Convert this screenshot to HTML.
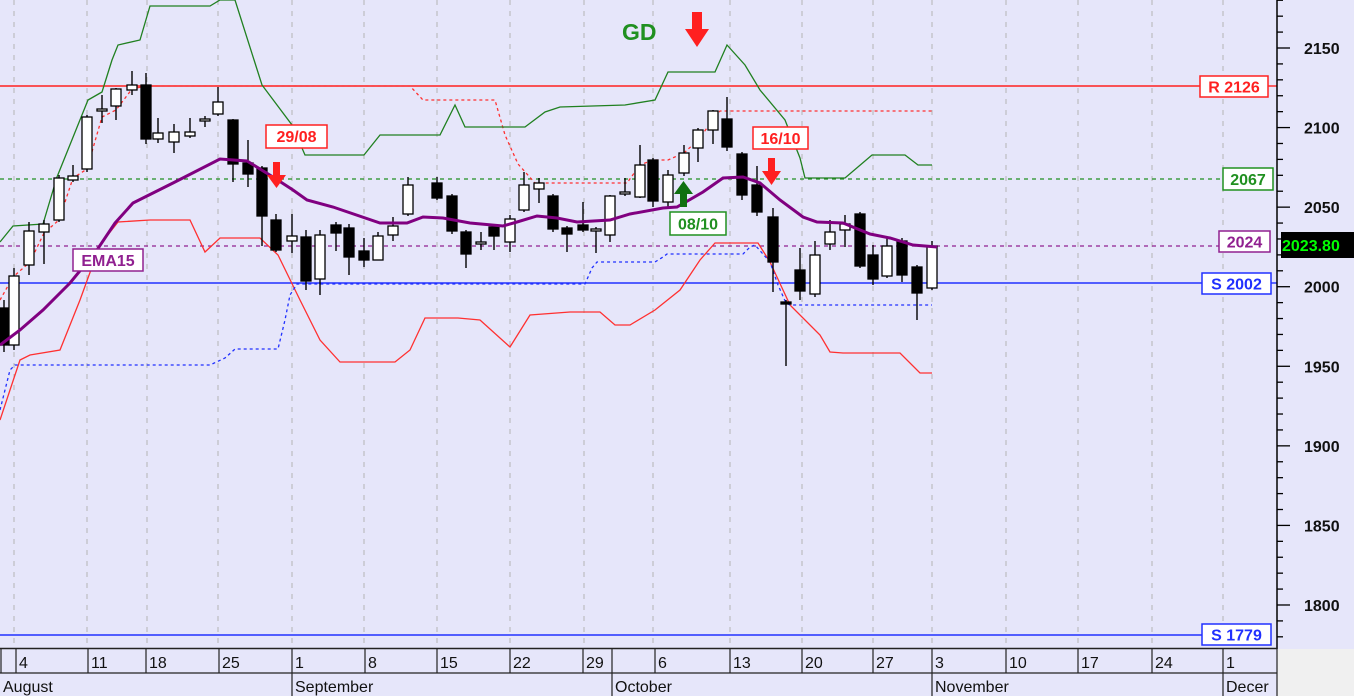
<!DOCTYPE html>
<html><head><meta charset="utf-8"><style>
html,body{margin:0;padding:0;background:#e6e6fa;}
svg{display:block;font-family:"Liberation Sans",Arial,sans-serif;}
</style></head><body>
<svg id="s" width="1354" height="696" viewBox="0 0 1354 696" xmlns="http://www.w3.org/2000/svg">
<rect x="0" y="0" width="1354" height="696" fill="#e6e6fa"/>
<rect x="1277" y="649" width="77" height="47" fill="#f0f0f0"/>
<g id="grid" stroke="#b4b4b4" stroke-dasharray="5,6" stroke-width="1"></g>
<line x1="0" y1="86" x2="1200" y2="86" stroke="#ff2020" stroke-width="1.4"/>
<line x1="1268" y1="86" x2="1277" y2="86" stroke="#ff2020" stroke-width="1.4"/>
<line x1="0" y1="179" x2="1223" y2="179" stroke="#209020" stroke-width="1.3" stroke-dasharray="4,4"/>
<line x1="0" y1="246" x2="1219" y2="246" stroke="#902090" stroke-width="1.3" stroke-dasharray="4,4"/>
<line x1="0" y1="283" x2="1202" y2="283" stroke="#2030ff" stroke-width="1.4"/>
<line x1="1271" y1="283" x2="1277" y2="283" stroke="#2030ff" stroke-width="1.4"/>
<line x1="0" y1="635" x2="1202" y2="635" stroke="#2030ff" stroke-width="1.6"/>
<polyline fill="none" stroke="#ff3030" stroke-width="1.3" stroke-dasharray="3,3" points="0,300 13,277 30,262 44,233 59,220 73,178 87,169 102,117 116,110 132,89 146,86 410,86 423,100 495,100 505,135 518,164 535,183 627,183 640,165 653,160 668,160 684,153 698,140 713,120 720,111 932,111"/>
<polyline fill="none" stroke="#208020" stroke-width="1.3" points="0,242 13,226 43,224 57,177 88,100 102,92 112,60 118,45 140,40 150,6 210,6 220,0 235,0 262,85 292,125 305,155 364,155 380,135 440,135 455,105 465,127 525,127 545,112 560,107 625,105 655,100 668,72 715,72 727,45 745,65 760,90 785,120 800,158 805,178 845,178 872,155 905,155 918,165 932,165"/>
<polyline fill="none" stroke="#ff3030" stroke-width="1.3" points="0,420 20,360 30,355 60,350 80,300 100,245 118,222 150,220 190,220 205,252 220,238 260,238 278,255 300,300 320,340 340,362 395,362 410,350 425,318 458,318 480,320 510,347 530,315 570,312 600,312 615,325 630,325 655,310 680,290 700,260 715,243 758,243 770,262 790,305 820,335 830,352 843,353 900,353 920,373 932,373"/>
<polyline fill="none" stroke="#2030ff" stroke-width="1.3" stroke-dasharray="3,3" points="0,410 10,370 15,365 210,365 225,358 235,349 278,349 285,320 290,295 297,284 585,284 592,268 597,262 655,262 663,257 667,254 743,254 750,247 755,245 770,262 778,285 786,303 790,305 932,305"/>
<g id="candles"></g>
<polyline fill="none" stroke="#800080" stroke-width="3" points="0,345 20,330 43,310 70,283 97,250 115,223 133,203 173,183 220,159 247,161 273,177 293,190 307,200 333,207 380,223 407,223 423,217 443,218 470,223 503,226 517,222 537,216 557,218 577,222 610,220 630,214 663,208 677,207 703,192 723,178 743,177 760,183 780,200 803,217 817,222 843,223 870,234 890,238 913,245 937,247"/>
<g font-weight="bold" font-size="16">
<rect x="266" y="125" width="61" height="23" fill="#fff" stroke="#ff2020" stroke-width="1.5"/><text x="296.5" y="142" fill="#ff2020" text-anchor="middle">29/08</text>
<rect x="753" y="127" width="55" height="22" fill="#fff" stroke="#ff2020" stroke-width="1.5"/><text x="780.5" y="144" fill="#ff2020" text-anchor="middle">16/10</text>
<rect x="670" y="212" width="56" height="23" fill="#fff" stroke="#209020" stroke-width="1.5"/><text x="698" y="229.5" fill="#209020" text-anchor="middle">08/10</text>
<rect x="73" y="249" width="70" height="22" fill="#fff" stroke="#902090" stroke-width="1.5"/><text x="108" y="266" fill="#902090" text-anchor="middle">EMA15</text>
<rect x="1200" y="76" width="68" height="21" fill="#fff" stroke="#ff2020" stroke-width="1.5"/><text x="1234" y="92.5" fill="#ff2020" text-anchor="middle">R 2126</text>
<rect x="1223" y="168" width="50" height="22" fill="#fff" stroke="#209020" stroke-width="1.5"/><text x="1248" y="185" fill="#209020" text-anchor="middle">2067</text>
<rect x="1219" y="231" width="51" height="21" fill="#fff" stroke="#902090" stroke-width="1.5"/><text x="1244.5" y="247.5" fill="#902090" text-anchor="middle">2024</text>
<rect x="1202" y="273" width="69" height="21" fill="#fff" stroke="#2030ff" stroke-width="1.5"/><text x="1236.5" y="289.5" fill="#2030ff" text-anchor="middle">S 2002</text>
<rect x="1202" y="624" width="69" height="21" fill="#fff" stroke="#2030ff" stroke-width="1.5"/><text x="1236.5" y="640.5" fill="#2030ff" text-anchor="middle">S 1779</text>
<rect x="1281" y="232" width="73" height="26" fill="#000"/><text x="1282" y="251" fill="#00ff00">2023.80</text>
<text x="622" y="40" fill="#209020" font-size="23">GD</text>
</g>
<path d="M692,12 h10 v17 h7 l-12,18 l-12,-18 h7z" fill="#ff2020"/>
<path d="M273,162 h7 v13 h6 l-9.5,13 l-9.5,-13 h6z" fill="#ff2020"/>
<path d="M768,158 h7 v13 h6 l-9.5,14 l-9.5,-14 h6z" fill="#ff2020"/>
<path d="M680,207 h7 v-13 h6 l-9.5,-13 l-9.5,13 h6z" fill="#107010"/>
<line x1="1277" y1="0" x2="1277" y2="649" stroke="#000" stroke-width="1.5"/>
<g id="yt" stroke="#000" stroke-width="1.3"></g>
<g id="yl" font-weight="bold" font-size="16" fill="#111"></g>
<line x1="0" y1="648.5" x2="1277" y2="648.5" stroke="#222" stroke-width="1.5"/>
<line x1="0" y1="673" x2="1277" y2="673" stroke="#222" stroke-width="1.2"/>
<g id="xa" font-size="16" fill="#111"></g>
</svg>
<script>
var NS="http://www.w3.org/2000/svg";
function el(p,t,a,txt){var e=document.createElementNS(NS,t);for(var k in a)e.setAttribute(k,a[k]);if(txt!=null)e.textContent=txt;document.getElementById(p).appendChild(e);return e;}
var gx=[14,87,147,218,292,364,437,510,584,653,730,802,873,932,1006,1078,1152,1223];
gx.forEach(function(x){el("grid","line",{x1:x,y1:0,x2:x,y2:648});});
var C=[[4,308,345,300,352,1],[14,276,345,268,350,0],[29,231,265,222,275,0],[44,224,232,220,264,0],[59,178,220,175,222,0],[73,176,180,165,182,0],[87,117,169,115,172,0],[102,109,111,95,123,0],[116,89,106,88,120,0],[132,85,90,71,95,0],[146,85,139,73,144,1],[158,133,139,118,143,0],[174,132,142,124,153,0],[190,132,136,118,138,0],[205,119,121,116,127,0],[218,102,114,87,116,0],[233,120,164,119,182,1],[248,163,174,140,187,1],[262,168,216,166,246,1],[276,220,250,214,252,1],[292,236,241,214,253,0],[306,237,281,230,290,1],[320,235,279,230,295,0],[336,225,233,222,251,1],[349,228,257,224,275,1],[364,251,260,238,267,1],[378,236,260,232,260,0],[393,226,235,217,241,0],[408,185,214,177,216,0],[437,183,198,177,200,1],[452,196,231,194,234,1],[466,232,254,230,268,1],[481,242,244,232,250,0],[494,227,236,225,250,1],[510,219,242,215,252,0],[524,185,210,172,212,0],[539,183,189,178,203,0],[553,196,229,194,232,1],[567,228,234,226,252,1],[583,225,230,202,232,1],[596,229,231,227,253,0],[610,196,235,195,242,0],[625,192,194,178,196,0],[640,165,197,145,198,0],[653,160,201,158,207,1],[668,175,202,170,207,0],[684,153,173,145,176,0],[698,130,148,128,162,0],[713,111,130,110,144,0],[727,119,147,97,151,1],[742,154,195,152,200,1],[757,185,212,166,216,1],[773,217,262,208,292,1],[786,302,304,300,366,1],[800,270,291,248,300,1],[815,255,294,241,297,0],[830,232,244,220,250,0],[845,224,230,215,247,0],[860,214,266,212,268,1],[873,255,279,245,285,1],[887,246,276,238,278,0],[902,241,275,238,282,1],[917,267,293,265,320,1],[932,246,288,241,290,0]];
C.forEach(function(c){
 el("candles","line",{x1:c[0],y1:c[3],x2:c[0],y2:c[4],stroke:"#000","stroke-width":1.4});
 var h=Math.max(c[2]-c[1],1.5);
 el("candles","rect",{x:c[0]-5,y:c[1],width:10,height:h,fill:c[5]?"#000":"#fff",stroke:"#000","stroke-width":1.3});
});
function yv(v){return 48+(2150-v)*1.5914;}
for(var v=1780;v<=2180;v+=10){var y=yv(v);if(y<0||y>648)continue;var maj=v%50==0;
 el("yt","line",{x1:1277,y1:y,x2:maj?1290:1283,y2:y});
 if(maj)el("yl","text",{x:1304,y:y+6},String(v));}
var days=[[16,"4"],[88,"11"],[146,"18"],[219,"25"],[292,"1"],[365,"8"],[437,"15"],[510,"22"],[583,"29"],[655,"6"],[730,"13"],[802,"20"],[873,"27"],[932,"3"],[1006,"10"],[1078,"17"],[1152,"24"],[1223,"1"]];
el("xa","line",{x1:1,y1:649,x2:1,y2:673,stroke:"#222","stroke-width":1.2});
el("xa","line",{x1:612,y1:649,x2:612,y2:673,stroke:"#222","stroke-width":1.2});
days.forEach(function(d){el("xa","line",{x1:d[0],y1:649,x2:d[0],y2:673,stroke:"#222","stroke-width":1.2});el("xa","text",{x:d[0]+3,y:668},d[1]);});
[[0,"August"],[292,"September"],[612,"October"],[932,"November"],[1223,"Decer"]].forEach(function(m){
 if(m[0]>0)el("xa","line",{x1:m[0],y1:673,x2:m[0],y2:696,stroke:"#222","stroke-width":1.2});
 el("xa","text",{x:m[0]+3,y:692},m[1]);});
el("xa","line",{x1:1277,y1:649,x2:1277,y2:696,stroke:"#222","stroke-width":1.2});
</script>
</body></html>
